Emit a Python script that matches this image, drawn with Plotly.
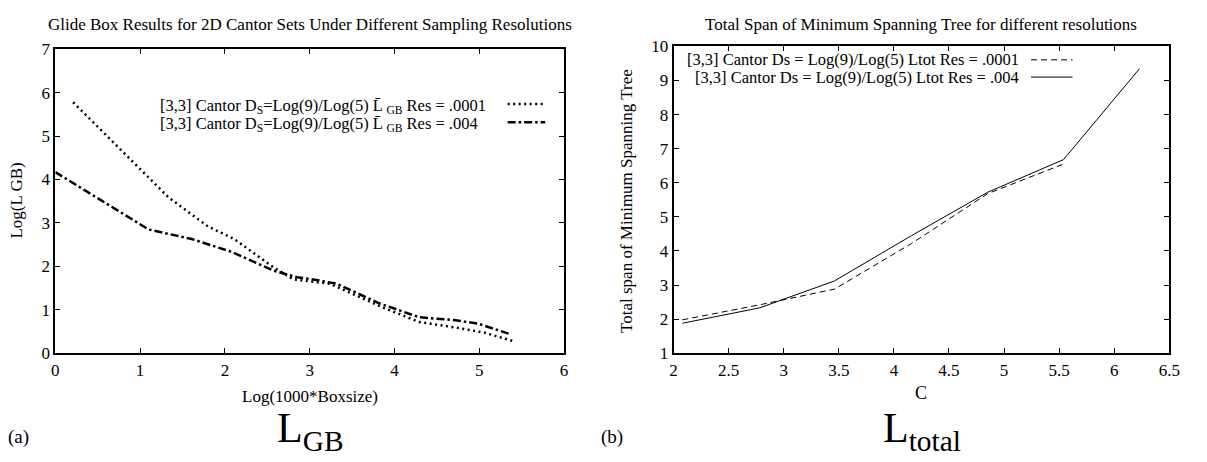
import plotly.graph_objects as go

# ---- data (left panel: Glide box) ----
gb_x_0001 = [0.21, 1.03, 1.34, 1.80, 2.11, 2.58, 2.81, 3.24, 3.82, 4.29, 4.76, 5.07, 5.40]
gb_y_0001 = [5.78, 4.17, 3.58, 2.92, 2.63, 1.97, 1.70, 1.60, 1.09, 0.72, 0.58, 0.47, 0.28]
gb_x_004 = [0.0, 1.10, 1.61, 2.07, 2.58, 2.85, 3.04, 3.32, 3.82, 4.29, 4.72, 4.99, 5.35]
gb_y_004 = [4.17, 2.85, 2.63, 2.34, 1.90, 1.75, 1.70, 1.60, 1.15, 0.83, 0.76, 0.68, 0.45]

# ---- data (right panel: MST total span) ----
c_x_0001 = [2.08, 2.78, 3.46, 4.16, 4.85, 5.54]
lt_0001 = [1.98, 2.42, 2.88, 4.22, 5.68, 6.55]
c_x_004 = [2.08, 2.78, 3.46, 4.16, 4.85, 5.54, 6.23]
lt_004 = [1.88, 2.33, 3.12, 4.45, 5.72, 6.68, 9.35]

left_xticks = [0, 1, 2, 3, 4, 5, 6]
left_yticks = [0, 1, 2, 3, 4, 5, 6, 7]
right_xticks = [2, 2.5, 3, 3.5, 4, 4.5, 5, 5.5, 6, 6.5]
right_yticks = [1, 2, 3, 4, 5, 6, 7, 8, 9, 10]

W, H = 1207, 462
FONT = "Liberation Serif, Times New Roman, serif"

def px(x):
    return x / W

def py(y):
    return 1 - y / H

DOT = "2px,3.5px"
DASHDOT = "8px,3px,2.5px,3px"
DASH = "6px,4px"

fig = go.Figure()
fig.add_trace(go.Scatter(x=gb_x_0001, y=gb_y_0001, mode="lines",
                         line=dict(color="black", width=2.5, dash=DOT),
                         xaxis="x", yaxis="y", showlegend=False))
fig.add_trace(go.Scatter(x=gb_x_004, y=gb_y_004, mode="lines",
                         line=dict(color="black", width=2.5, dash=DASHDOT),
                         xaxis="x", yaxis="y", showlegend=False))
fig.add_trace(go.Scatter(x=c_x_0001, y=lt_0001, mode="lines",
                         line=dict(color="black", width=1, dash=DASH),
                         xaxis="x2", yaxis="y2", showlegend=False))
fig.add_trace(go.Scatter(x=c_x_004, y=lt_004, mode="lines",
                         line=dict(color="black", width=1),
                         xaxis="x2", yaxis="y2", showlegend=False))

axcommon = dict(showline=True, linecolor="black", linewidth=2, mirror="ticks",
                ticks="inside", ticklen=5, tickwidth=1.2, tickcolor="black",
                showgrid=False, zeroline=False,
                tickfont=dict(family=FONT, size=17, color="black"))

fig.update_layout(
    width=W, height=H,
    margin=dict(l=0, r=0, t=0, b=0),
    paper_bgcolor="white", plot_bgcolor="white",
    font=dict(family=FONT, color="black"),
    xaxis=dict(domain=[px(52), px(567)], range=[0, 6], tickvals=left_xticks,
               anchor="y", **axcommon),
    yaxis=dict(domain=[py(359), py(42)], range=[0, 7], tickvals=left_yticks,
               anchor="x", **axcommon),
    xaxis2=dict(domain=[px(678), px(1180)], range=[2, 6.5], tickvals=right_xticks,
                anchor="y2", **axcommon),
    yaxis2=dict(domain=[py(359), py(39)], range=[1, 10], tickvals=right_yticks,
                anchor="x2", **axcommon),
)

ann = []
def text(t, x, y, size=17, xanchor="center", textangle=0):
    ann.append(dict(text=t, x=px(x), y=py(y), xref="paper", yref="paper",
                    showarrow=False, xanchor=xanchor, yanchor="middle",
                    textangle=textangle, font=dict(family=FONT, size=size, color="black")))

text("Glide Box Results for 2D Cantor Sets Under Different Sampling Resolutions", 309.5, 16)
text("Total Span of Minimum Spanning Tree for different resolutions", 929, 16)
text("Log(1000*Boxsize)", 309.5, 404)
text("C", 929, 400, size=18)
text("Log(L GB)", 13, 200, textangle=-90)
text("Total span of Minimum Spanning Tree", 631, 200, textangle=-90)
text("(a)", 2, 446, size=19, xanchor="left")
text("(b)", 602, 446, size=19, xanchor="left")
text("L<sub>GB</sub>", 310, 440, size=42)
text("L<sub>total</sub>", 930, 440, size=42)

# legends
text("[3,3] Cantor D<sub>S</sub>=Log(9)/Log(5) L\u0304 <sub>GB</sub> Res = .0001", 156, 101, size=16.5, xanchor="left")
text("[3,3] Cantor D<sub>S</sub>=Log(9)/Log(5) L\u0304 <sub>GB</sub> Res = .004", 156, 120, size=16.5, xanchor="left")
text("[3,3] Cantor Ds = Log(9)/Log(5) Ltot Res = .0001", 1030, 53, size=16.5, xanchor="right")
text("[3,3] Cantor Ds = Log(9)/Log(5) Ltot Res = .004", 1030, 71, size=16.5, xanchor="right")
fig.update_layout(annotations=ann)

shapes = [
    dict(type="line", xref="paper", yref="paper", x0=px(510), x1=px(548), y0=py(99), y1=py(99),
         line=dict(color="black", width=2.5, dash=DOT)),
    dict(type="line", xref="paper", yref="paper", x0=px(510), x1=px(548), y0=py(118), y1=py(118),
         line=dict(color="black", width=2.5, dash=DASHDOT)),
    dict(type="line", xref="paper", yref="paper", x0=px(1040), x1=px(1082), y0=py(53), y1=py(53),
         line=dict(color="black", width=1, dash=DASH)),
    dict(type="line", xref="paper", yref="paper", x0=px(1040), x1=px(1082), y0=py(71), y1=py(71),
         line=dict(color="black", width=1)),
]
fig.update_layout(shapes=shapes)

fig.write_html("out.html")
